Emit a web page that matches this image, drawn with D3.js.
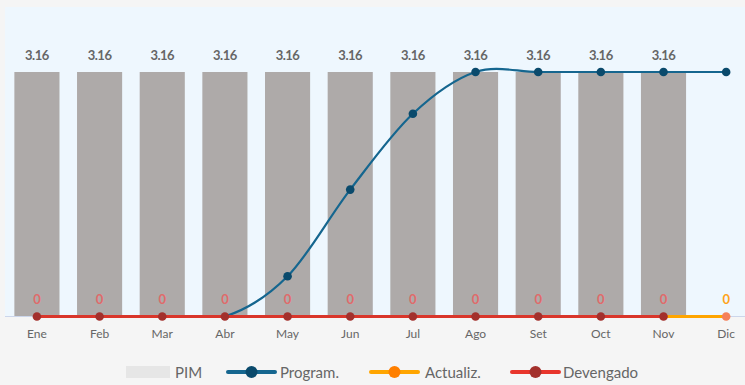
<!DOCTYPE html>
<html><head><meta charset="utf-8">
<script src="https://cdn.jsdelivr.net/npm/d3@7"></script>
<style>
html,body{margin:0;padding:0;background:#f5f5f5;}
svg{display:block;font-family:Lato,"Open Sans",sans-serif;}
</style></head>
<body>
<svg id="c" width="745" height="385"></svg>
<script>
const months = ["Ene","Feb","Mar","Abr","May","Jun","Jul","Ago","Set","Oct","Nov","Dic"];
const pim = [3.16,3.16,3.16,3.16,3.16,3.16,3.16,3.16,3.16,3.16,3.16,null];
const program = [0,0,0,0,0.52,1.64,2.62,3.16,3.16,3.16,3.16,3.16];
const actualiz = [null,null,null,null,null,null,null,null,null,null,0,0];
const devengado = [0,0,0,0,0,0,0,0,0,0,0,null];
const legendItems = ["PIM","Program.","Actualiz.","Devengado"];

const svg = d3.select("#c");
const W = 745, H = 385;
const plotL = 5, plotT = 7, plotB = 316.5;
const x = d3.scaleBand().domain(months).range([5.6, 757.5]).paddingInner(0.28).paddingOuter(0.14);
const y = d3.scaleLinear().domain([0,4]).range([plotB, plotT]);
const cx = m => x(m) + x.bandwidth()/2;

svg.append("defs").append("clipPath").attr("id","plotclip")
  .append("rect").attr("x",plotL).attr("y",plotT).attr("width",W-plotL).attr("height",plotB-plotT);

svg.append("rect").attr("x",0).attr("y",0).attr("width",W).attr("height",H).attr("fill","#f5f5f5");
svg.append("rect").attr("x",plotL).attr("y",plotT).attr("width",W-plotL).attr("height",plotB-plotT).attr("fill","#eef7fe");

// bars
svg.append("g").selectAll("rect").data(months.map((m,i)=>({m,v:pim[i]})).filter(d=>d.v!=null))
  .join("rect").attr("x",d=>x(d.m)).attr("width",x.bandwidth())
  .attr("y",d=>y(d.v)).attr("height",d=>y(0)-y(d.v)).attr("fill","#aeaaa9");

// bar labels
svg.append("g").selectAll("text").data(months.map((m,i)=>({m,v:pim[i]})).filter(d=>d.v!=null))
  .join("text").attr("x",d=>cx(d.m)).attr("y",d=>y(d.v)-12).attr("text-anchor","middle")
  .attr("font-size",13).attr("font-weight","bold").attr("fill","#666").attr("letter-spacing","-0.5")
  .text(d=>d.v.toFixed(2));

// axis
const ax = svg.append("g").attr("transform",`translate(0,${plotB})`).call(d3.axisBottom(x).tickSize(0).tickPadding(13));
ax.select(".domain").attr("stroke","#ccd6eb").attr("d",`M${plotL},0H${W}`);
ax.selectAll("text").attr("font-size",12).attr("fill","#666").attr("font-family","Lato,sans-serif");

const lineStraight = d3.line().defined(d=>d.v!=null).x(d=>cx(d.m)).y(d=>y(d.v));
const devData = months.map((m,i)=>({m,v:devengado[i]}));
const actData = months.map((m,i)=>({m,v:actualiz[i]}));
const progData = months.map((m,i)=>({m,v:program[i]}));

// program line (clipped to plot area)
const lineCurve = d3.line().x(d=>cx(d.m)).y(d=>y(d.v)).curve(d3.curveCatmullRom.alpha(0));
svg.append("path").datum(progData).attr("d",lineCurve).attr("clip-path","url(#plotclip)")
  .attr("fill","none").attr("stroke","#15668f").attr("stroke-width",2.2);

svg.append("path").datum(actData).attr("d",lineStraight).attr("fill","none").attr("stroke","#ffa500").attr("stroke-width",3);
svg.append("path").datum(devData).attr("d",lineStraight).attr("fill","none").attr("stroke","#d9362b").attr("stroke-width",3);

// points
svg.append("g").selectAll("circle").data(progData.filter((d,i)=>d.v>0)).join("circle")
  .attr("cx",d=>cx(d.m)).attr("cy",d=>y(d.v)).attr("r",4.3).attr("fill","#0a4a6c");
svg.append("g").selectAll("circle").data(actData.filter(d=>d.v!=null && d.m==="Dic")).join("circle")
  .attr("cx",d=>cx(d.m)).attr("cy",d=>y(d.v)).attr("r",4.3).attr("fill","#f5805a");
svg.append("g").selectAll("circle").data(devData.filter(d=>d.v!=null)).join("circle")
  .attr("cx",d=>cx(d.m)).attr("cy",d=>y(d.v)).attr("r",4.3).attr("fill","#a3302c");

// zero labels
svg.append("g").selectAll("text").data(devData.filter(d=>d.v!=null)).join("text")
  .attr("x",d=>cx(d.m)).attr("y",y(0)-13).attr("text-anchor","middle")
  .attr("font-size",13).attr("font-weight","bold").attr("fill","#e06b6b").text(d=>d.v);
svg.append("g").selectAll("text").data(actData.filter(d=>d.m==="Dic")).join("text")
  .attr("x",d=>cx(d.m)).attr("y",y(0)-13).attr("text-anchor","middle")
  .attr("font-size",13).attr("font-weight","bold").attr("fill","#ffa31a").text(d=>d.v);

// legend
const lg = svg.append("g").attr("font-size",15).attr("fill","#666");
const ly = 372;
lg.append("rect").attr("x",126).attr("y",ly-6).attr("width",44).attr("height",12).attr("fill","#e6e6e6");
lg.append("text").attr("x",175).attr("y",ly+5.5).text(legendItems[0]);
const lineItems = [
  {x:228, c:"#15668f", dc:"#0a4a6c", tx:280, t:legendItems[1]},
  {x:371, c:"#ffa500", dc:"#ff7f00", tx:425, t:legendItems[2]},
  {x:512, c:"#e8352c", dc:"#a3302c", tx:563, t:legendItems[3]}
];
lineItems.forEach(d=>{
  lg.append("line").attr("x1",d.x).attr("x2",d.x+47).attr("y1",ly).attr("y2",ly).attr("stroke",d.c).attr("stroke-width",4).attr("stroke-linecap","round");
  lg.append("circle").attr("cx",d.x+23.5).attr("cy",ly).attr("r",6).attr("fill",d.dc);
  lg.append("text").attr("x",d.tx).attr("y",ly+5.5).text(d.t);
});
</script>
</body></html>
